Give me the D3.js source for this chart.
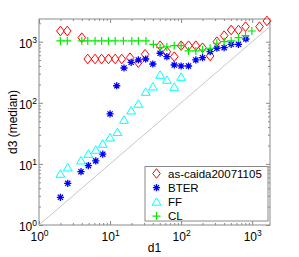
<!DOCTYPE html>
<html>
<head>
<meta charset="utf-8">
<script src="https://cdn.jsdelivr.net/npm/d3@7"></script>
<style>
body { margin: 0; background: #fff; }
text { font-family: "Liberation Sans", Arial, sans-serif; }
</style>
</head>
<body>
<div id="chart"></div>
<script>
// values (d1 bins vs median d3)
var caidaX = [2, 2.5, 4, 4.85, 6.15, 7.6, 9.5, 11.8, 14.6, 19.1, 25, 31.1, 50.6, 63, 80, 100, 127, 161, 200, 256, 318, 403, 506, 641, 805, 1267, 1610]
var caidaY = [1496, 1496, 1163, 521, 521, 521, 521, 521, 521, 547, 453, 622, 860, 686, 568, 860, 860, 860, 797, 583, 1000, 1254, 1552, 1552, 1760, 1760, 2182]

var bterX = [2, 2.54, 3.9, 4.95, 6.29, 7.89, 10, 12.4, 15.7, 19.8, 25, 31.7, 40, 50.6, 63, 80, 100, 127, 161, 200, 256, 318, 403, 506, 641, 815]
var bterY = [2.84, 4.81, 7.45, 9.35, 11.2, 14.4, 65.6, 190, 371, 460, 502, 521, 431, 646, 568, 415, 400, 400, 502, 547, 686, 780, 797, 906, 906, 1107]

var ffX = [2, 2.54, 3.9, 4.95, 6.29, 7.89, 10, 12.7, 15.7, 19.8, 25, 31.7, 40, 50.6, 63, 80, 100]
var ffY = [6.84, 8.67, 11.3, 14.5, 16.9, 21.2, 26.8, 32.9, 52.3, 74.3, 95.6, 150, 183, 285, 236, 181, 264]

var clX = [2, 2.5, 4, 4.85, 6.15, 7.6, 9.5, 11.8, 15.4, 20.2, 25, 32, 40.7, 50.6, 63, 80, 100, 127, 161, 200, 256, 318, 403, 506, 641, 805, 990]
var clY = [1027, 1027, 1027, 1027, 1027, 1027, 1027, 1027, 1027, 1027, 1027, 1027, 906, 797, 819, 860, 860, 705, 705, 731, 780, 942, 1000, 1027, 1163, 1254, 1496]

var legendNames = ["as-caida20071105", "BTER", "FF", "CL"]
var xMajor = [1, 10, 100, 1000]
var yMajor = [1, 10, 100, 1000]
var xMinor = [2,3,4,5,6,7,8,9,20,30,40,50,60,70,80,90,200,300,400,500,600,700,800,900]
var yMinor = [2,3,4,5,6,7,8,9,20,30,40,50,60,70,80,90,200,300,400,500,600,700,800,900,2000]

const svgWidth = 299
const svgHeight = 257
var plotLeft = 39, plotRight = 270, plotTop = 19, plotBottom = 225
var boxColor = "#8a8a8a"

var series = [
    {name: legendNames[0], xs: caidaX, ys: caidaY, shape: "diamond", color: "#ff0000"},
    {name: legendNames[1], xs: bterX, ys: bterY, shape: "star", color: "#0000ff"},
    {name: legendNames[2], xs: ffX, ys: ffY, shape: "triangle", color: "#00ffff"},
    {name: legendNames[3], xs: clX, ys: clY, shape: "plus", color: "#00ee00"}
]

var svg = d3.select("#chart")
    .append("svg")
    .attr("width", svgWidth)
    .attr("height", svgHeight)

var xScale = d3.scaleLog().domain([1, 1780]).range([plotLeft, plotRight])
var yScale = d3.scaleLog().domain([1, 2350]).range([plotBottom, plotTop])

function supLabel(sel) {
    sel.each(function(d) {
        var t = d3.select(this)
        t.text(null)
        t.append("tspan").text("10")
        t.append("tspan").attr("dy", "-0.55em").style("font-size", "8.5px").text(Math.round(Math.log10(d)))
    })
}

function styleAxis(g) {
    g.select(".domain").remove()
    g.selectAll("line").attr("stroke", boxColor)
    g.selectAll("text").attr("fill", "#000").style("font-size", "12px")
}

// minor ticks, all four sides
svg.append("g").attr("transform", "translate(0," + plotBottom + ")")
    .call(d3.axisBottom(xScale).tickValues(xMinor).tickSize(-2).tickFormat("")).call(styleAxis)
svg.append("g").attr("transform", "translate(0," + plotTop + ")")
    .call(d3.axisTop(xScale).tickValues(xMinor).tickSize(-2).tickFormat("")).call(styleAxis)
svg.append("g").attr("transform", "translate(" + plotLeft + ",0)")
    .call(d3.axisLeft(yScale).tickValues(yMinor).tickSize(-2).tickFormat("")).call(styleAxis)
svg.append("g").attr("transform", "translate(" + plotRight + ",0)")
    .call(d3.axisRight(yScale).tickValues(yMinor).tickSize(-2).tickFormat("")).call(styleAxis)

// major ticks
svg.append("g").attr("transform", "translate(0," + plotBottom + ")")
    .call(d3.axisBottom(xScale).tickValues(xMajor).tickSize(-4).tickPadding(7)).call(styleAxis)
    .selectAll("text").call(supLabel)
svg.append("g").attr("transform", "translate(0," + plotTop + ")")
    .call(d3.axisTop(xScale).tickValues(xMajor).tickSize(-4).tickFormat("")).call(styleAxis)
svg.append("g").attr("transform", "translate(" + plotLeft + ",0)")
    .call(d3.axisLeft(yScale).tickValues(yMajor).tickSize(-4).tickPadding(2)).call(styleAxis)
    .selectAll("text").attr("dy", "0.45em").call(supLabel)
svg.append("g").attr("transform", "translate(" + plotRight + ",0)")
    .call(d3.axisRight(yScale).tickValues(yMajor).tickSize(-4).tickFormat("")).call(styleAxis)

svg.append("rect")
    .attr("x", plotLeft).attr("y", plotTop)
    .attr("width", plotRight - plotLeft).attr("height", plotBottom - plotTop)
    .style("fill", "none").style("stroke", boxColor).style("stroke-width", "1px")

// y = x reference line
var diag = [1, 1780]
svg.append("line")
    .attr("x1", xScale(diag[0])).attr("y1", yScale(diag[0]))
    .attr("x2", xScale(diag[1])).attr("y2", yScale(diag[1]))
    .style("stroke", "#c8c8c8").style("stroke-width", "1px")

function drawMarker(g, shape, color, cx, cy) {
    if (shape === "diamond") {
        g.append("path")
            .attr("d", "M" + cx + "," + (cy - 4.8) + "L" + (cx + 3.8) + "," + cy + "L" + cx + "," + (cy + 4.8) + "L" + (cx - 3.8) + "," + cy + "Z")
            .style("fill", "none").style("stroke", color).style("stroke-width", "1px")
    } else if (shape === "triangle") {
        g.append("path")
            .attr("d", "M" + cx + "," + (cy - 4.2) + "L" + (cx + 4.4) + "," + (cy + 3.3) + "L" + (cx - 4.4) + "," + (cy + 3.3) + "Z")
            .style("fill", "none").style("stroke", color).style("stroke-width", "1px")
    } else if (shape === "plus") {
        g.append("path")
            .attr("d", "M" + (cx - 4) + "," + cy + "H" + (cx + 4) + "M" + cx + "," + (cy - 4) + "V" + (cy + 4))
            .style("stroke", color).style("stroke-width", "1.2px")
    } else {
        var r = 3.6, d = 2.6
        g.append("path")
            .attr("d", "M" + (cx - r) + "," + cy + "H" + (cx + r) + "M" + cx + "," + (cy - r) + "V" + (cy + r)
                + "M" + (cx - d) + "," + (cy - d) + "L" + (cx + d) + "," + (cy + d)
                + "M" + (cx - d) + "," + (cy + d) + "L" + (cx + d) + "," + (cy - d))
            .style("stroke", color).style("stroke-width", "1.3px")
    }
}

series.forEach(function(s) {
    var g = svg.append("g")
    s.xs.forEach(function(xv, i) {
        drawMarker(g, s.shape, s.color, xScale(xv), yScale(s.ys[i]))
    })
})

// legend
var lg = svg.append("g")
lg.append("rect")
    .attr("x", 145).attr("y", 166.5).attr("width", 123).attr("height", 54.5)
    .style("fill", "#fff").style("stroke", boxColor).style("stroke-width", "1px")
series.forEach(function(s, i) {
    var cy = 173.5 + i * 14.2
    drawMarker(lg, s.shape, s.color, 156.5, cy)
    lg.append("text")
        .attr("x", 168).attr("y", cy + 4.2)
        .style("font-size", "11.5px")
        .text(s.name)
})

// axis labels
svg.append("text")
    .attr("x", (plotLeft + plotRight) / 2).attr("y", 252)
    .attr("text-anchor", "middle")
    .style("font-size", "12px")
    .text("d1")
svg.append("text")
    .attr("transform", "translate(17," + (plotTop + plotBottom) / 2 + ") rotate(-90)")
    .attr("text-anchor", "middle")
    .style("font-size", "12px")
    .text("d3 (median)")
</script>
</body>
</html>
